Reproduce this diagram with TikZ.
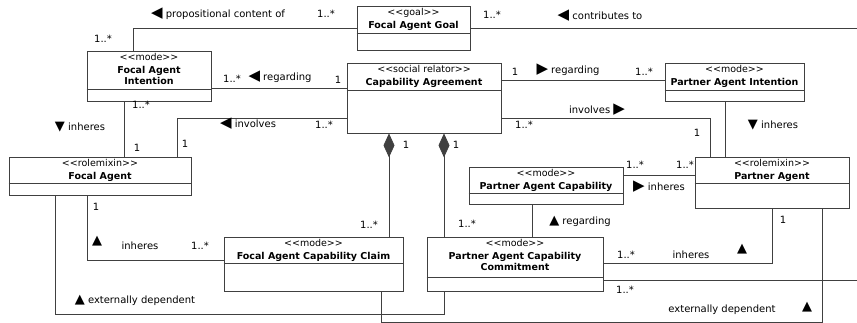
\documentclass[tikz,border=0pt]{standalone}
\usepackage{fontspec}
\setmainfont{DejaVu Sans}[Ligatures=TeXOff]
\usetikzlibrary{arrows.meta,fit}

% class box: name, corner, opposite corner, divider y, text
\newcommand{\umlclass}[5]{%
  \node[classbox, fit={(#2) (#3)}] (#1) {};
  \node[classtext] (#1txt) at (#1.north) {#5};
  \draw[umlline] (#1.west |- 0,#4) -- (#1.east |- 0,#4);
}
\newcommand{\triL}{\smash{\fontsize{15}{15}\selectfont ◀}}
\newcommand{\triR}{\smash{\fontsize{15}{15}\selectfont ▶}}
\newcommand{\triU}{\smash{\fontsize{13}{13}\selectfont ▲}}
\newcommand{\triD}{\smash{\fontsize{13}{13}\selectfont ▼}}

\begin{document}
\begin{tikzpicture}[x=1pt,y=-1pt,
  umlline/.style={draw=black!75, line width=0.8pt},
  classbox/.style={umlline, rectangle, inner sep=0pt},
  classtext/.style={anchor=north, align=center, inner sep=2pt, font=\fontsize{9.5}{11}\selectfont},
  lbl/.style={inner sep=0pt, font=\fontsize{10}{11}\selectfont},
  compo/.style={umlline, {Diamond[length=24pt,width=11pt]}-}]
  \useasboundingbox (0,0) rectangle (857,323);

  % Classes
  \umlclass{goal}{357,6}{470,50}{33}{<<goal>>\\[2pt]\textbf{Focal Agent Goal}}
  \umlclass{fint}{87,51}{211,101}{89}{<<mode>>\\[2pt]\textbf{Focal Agent}\\\textbf{Intention}}
  \umlclass{agree}{347,63}{501,133}{90}{<<social relator>>\\[2pt]\textbf{Capability Agreement}}
  \umlclass{pint}{665,63}{804,101}{90}{<<mode>>\\[2pt]\textbf{Partner Agent Intention}}
  \umlclass{fagent}{9,157}{191,195}{183}{<<rolemixin>>\\[2pt]\textbf{Focal Agent}}
  \umlclass{pcap}{469,167}{623,204}{193}{<<mode>>\\[2pt]\textbf{Partner Agent Capability}}
  \umlclass{pagent}{695,157}{849,208}{183}{<<rolemixin>>\\[2pt]\textbf{Partner Agent}}
  \umlclass{claim}{224,237}{403,291}{263}{<<mode>>\\[2pt]\textbf{Focal Agent Capability Claim}}
  \umlclass{commit}{427,237}{603,291}{277}{<<mode>>\\[2pt]\textbf{Partner Agent Capability}\\\textbf{Commitment}}

  % Free ends at the right border
  \coordinate (offTop) at (857,28);
  \coordinate (offBottom) at (857,280);

  % Associations
  \draw[umlline] (goal.west |- 0,28) -| (133,0 |- fint.north);
  \draw[umlline] (goal.east |- 0,28) -- (offTop);
  \draw[umlline] (fint.east |- 0,88) -- (agree.west |- 0,88);
  \draw[umlline] (agree.east |- 0,80) -- (pint.west |- 0,80);
  \draw[umlline] (124,0 |- fint.south) -- (124,0 |- fagent.north);
  \draw[umlline] (agree.west |- 0,118) -| (177,0 |- fagent.north);
  \draw[umlline] (agree.east |- 0,118) -| (710,0 |- pagent.north);
  \draw[umlline] (725,0 |- pint.south) -- (725,0 |- pagent.north);
  \draw[umlline] (pcap.east |- 0,175) -- (pagent.west |- 0,175);
  \draw[umlline] (532,0 |- pcap.south) -- (532,0 |- commit.north);
  \draw[umlline] (87,0 |- fagent.south) |- (claim.west |- 0,260);
  \draw[umlline] (55,0 |- fagent.south) |- (444,314) -- (444,0 |- commit.south);
  \draw[umlline] (381,0 |- claim.south) |- (822,322) -- (822,0 |- pagent.south);
  \draw[umlline] (772,0 |- pagent.south) |- (commit.east |- 0,263);
  \draw[umlline] (commit.east |- 0,280) -- (offBottom);

  % Compositions
  \draw[compo] (389,0 |- agree.south) -- (389,0 |- claim.north);
  \draw[compo] (444,0 |- agree.south) -- (444,0 |- commit.north);

  % Labels and multiplicities
  \node[lbl] (propLbl) at (218,15) {\triL\ propositional content of};
  \node[lbl] (mGoalA) at (326,14) {1..*};
  \node[lbl] (mFintA) at (103,39) {1..*};
  \node[lbl] (mGoalB) at (492,15) {1..*};
  \node[lbl] (contribLbl) at (600,16) {\triL\ contributes to};
  \node[lbl] (mFintB) at (232,79) {1..*};
  \node[lbl] (regLblA) at (280,78) {\triL\ regarding};
  \node[lbl] (mAgreeA) at (338,80) {1};
  \node[lbl] (mAgreeB) at (515,72) {1};
  \node[lbl] (regLblB) at (568,71) {\triR\ regarding};
  \node[lbl] (mPint) at (644,72) {1..*};
  \node[lbl] (mFintC) at (141,105) {1..*};
  \node[lbl] (inhLblA) at (80,127) {\triD\ inheres};
  \node[lbl] (mFagentA) at (137,148) {1};
  \node[lbl] (mFagentB) at (185,144) {1};
  \node[lbl] (invLblA) at (248,124) {\triL\ involves};
  \node[lbl] (mAgreeC) at (324,125) {1..*};
  \node[lbl] (mAgreeD) at (406,145) {1};
  \node[lbl] (mAgreeE) at (456,145) {1};
  \node[lbl] (invLblB) at (597,110) {involves \triR};
  \node[lbl] (mAgreeF) at (524,125) {1..*};
  \node[lbl] (mPagentA) at (697,133) {1};
  \node[lbl] (inhLblB) at (773,125) {\triD\ inheres};
  \node[lbl] (mPcapA) at (635,165) {1..*};
  \node[lbl] (mPagentB) at (685,165) {1..*};
  \node[lbl] (inhLblC) at (659,187) {\triR\ inheres};
  \node[lbl] (regLblC) at (580,222) {\triU\ regarding};
  \node[lbl] (mClaimA) at (369,225) {1..*};
  \node[lbl] (mCommitA) at (467,224) {1..*};
  \node[lbl] (mFagentC) at (96,207) {1};
  \node[lbl] (inhTriD) at (97,244) {\triU};
  \node[lbl] (inhLblD) at (140,246) {inheres};
  \node[lbl] (mClaimB) at (200,246) {1..*};
  \node[lbl] (extLblA) at (135,301) {\triU\ externally dependent};
  \node[lbl] (mPagentC) at (783,220) {1};
  \node[lbl] (mCommitB) at (626,255) {1..*};
  \node[lbl] (inhLblE) at (691,255) {inheres};
  \node[lbl] (inhTriE) at (742,253) {\triU};
  \node[lbl] (mCommitC) at (625,290) {1..*};
  \node[lbl] (extLblB) at (722,310) {externally dependent};
  \node[lbl] (extTriB) at (807,310) {\triU};
\end{tikzpicture}
\end{document}
